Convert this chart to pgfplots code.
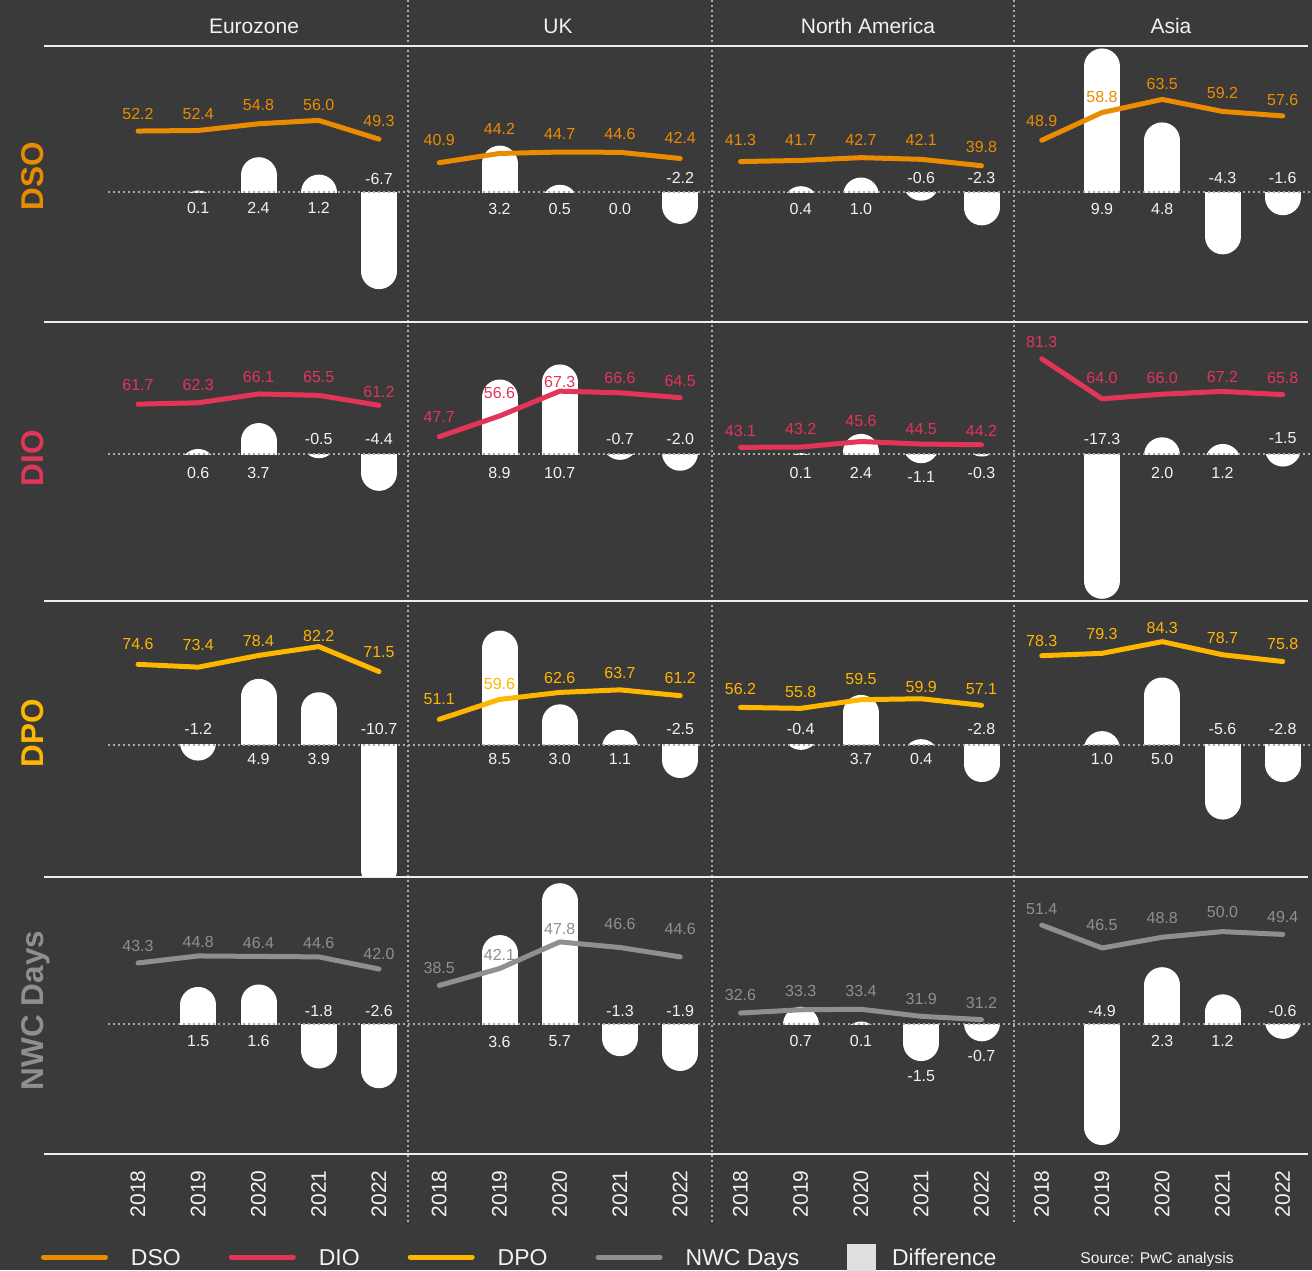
\documentclass[border=0pt]{standalone}
\usepackage{pgfplots}
\pgfplotsset{compat=1.18}
\usepackage{pgfplotstable}
\usepackage{fontspec}
\setmainfont{Liberation Sans}

\definecolor{bg}{HTML}{3A3A3A}
\definecolor{dso}{HTML}{EB8C00}
\definecolor{dio}{HTML}{E3345A}
\definecolor{dpo}{HTML}{FFB600}
\definecolor{nwc}{HTML}{8F8F8F}
\definecolor{txt}{HTML}{F2F2F2}
\definecolor{dotc}{HTML}{ABABAB}
\definecolor{diffc}{HTML}{E0E0E0}
\definecolor{rule}{HTML}{EDEDED}

\newcommand\lbl{\fontsize{8}{9.6}\selectfont}

% ---------------- data ----------------
\pgfplotstableread{
x v t lo
0 52.2 52.2 17
1 52.4 52.4 16.5
2 54.8 54.8 19
3 56.0 56.0 15.5
4 49.3 49.3 18.5
5 40.9 40.9 22.5
6 44.2 44.2 25
7 44.7 44.7 18
8 44.6 44.6 18
9 42.4 42.4 21
10 41.3 41.3 21.5
11 41.7 41.7 20.5
12 42.7 42.7 17.5
13 42.1 42.1 19.5
14 39.8 39.8 18.5
15 48.9 48.9 19.5
16 58.8 58.8 16
17 63.5 63.5 15
18 59.2 59.2 18
19 57.6 57.6 16
}\dsoL
\pgfplotstableread{
x d t lp
1 0.1 0.1 16
2 2.4 2.4 16
3 1.2 1.2 16
4 -6.7 -6.7 -13
6 3.2 3.2 17
7 0.5 0.5 17
8 0.0 0.0 17
9 -2.2 -2.2 -14
11 0.4 0.4 17
12 1.0 1.0 17
13 -0.6 -0.6 -14
14 -2.3 -2.3 -14
16 9.9 9.9 17
17 4.8 4.8 17
18 -4.3 -4.3 -14
19 -1.6 -1.6 -14
}\dsoD

\pgfplotstableread{
x v t lo
0 61.7 61.7 19
1 62.3 62.3 18
2 66.1 66.1 17
3 65.5 65.5 18.5
4 61.2 61.2 13
5 47.7 47.7 20
6 56.6 56.6 23.5
7 67.3 67.3 9.5
8 66.6 66.6 15
9 64.5 64.5 16.5
10 43.1 43.1 16.5
11 43.2 43.2 18
12 45.6 45.6 20.5
13 44.5 44.5 15
14 44.2 44.2 14
15 81.3 81.3 17
16 64.0 64.0 21
17 66.0 66.0 16.5
18 67.2 67.2 14.5
19 65.8 65.8 17
}\dioL
\pgfplotstableread{
x d t lp
1 0.6 0.6 18.5
2 3.7 3.7 18.5
3 -0.5 -0.5 -15
4 -4.4 -4.4 -15
6 8.9 8.9 18.5
7 10.7 10.7 18.5
8 -0.7 -0.7 -15
9 -2.0 -2.0 -15
11 0.1 0.1 18.5
12 2.4 2.4 18.5
13 -1.1 -1.1 22.5
14 -0.3 -0.3 18.5
16 -17.3 -17.3 -15
17 2.0 2.0 18.5
18 1.2 1.2 18.5
19 -1.5 -1.5 -15.5
}\dioD

\pgfplotstableread{
x v t lo
0 74.6 74.6 20
1 73.4 73.4 22.5
2 78.4 78.4 14.5
3 82.2 82.2 11
4 71.5 71.5 20
5 51.1 51.1 20
6 59.6 59.6 15
7 62.6 62.6 14
8 63.7 63.7 16.5
9 61.2 61.2 17.5
10 56.2 56.2 18
11 55.8 55.8 16
12 59.5 59.5 20.5
13 59.9 59.9 12
14 57.1 57.1 16
15 78.3 78.3 15
16 79.3 79.3 19
17 84.3 84.3 14
18 78.7 78.7 17
19 75.8 75.8 18
}\dpoL
\pgfplotstableread{
x d t lp
1 -1.2 -1.2 -16
2 4.9 4.9 14
3 3.9 3.9 14
4 -10.7 -10.7 -16
6 8.5 8.5 14
7 3.0 3.0 14
8 1.1 1.1 14
9 -2.5 -2.5 -16
11 -0.4 -0.4 -16
12 3.7 3.7 14
13 0.4 0.4 14
14 -2.8 -2.8 -16
16 1.0 1.0 14
17 5.0 5.0 14
18 -5.6 -5.6 -16
19 -2.8 -2.8 -16
}\dpoD

\pgfplotstableread{
x v t lo
0 43.3 43.3 16.5
1 44.8 44.8 14
2 44.7 46.4 13.5
3 44.6 44.6 14
4 42.0 42.0 15.5
5 38.5 38.5 17
6 42.1 42.1 14
7 47.8 47.8 12.5
8 46.6 46.6 23.5
9 44.6 44.6 27.5
10 32.6 32.6 18.5
11 33.3 33.3 19
12 33.4 33.4 18
13 31.9 31.9 17
14 31.2 31.2 17
15 51.4 51.4 16
16 46.5 46.5 23.5
17 48.8 48.8 19.5
18 50.0 50.0 20
19 49.4 49.4 17
}\nwcL
\pgfplotstableread{
x d t lp
1 1.5 1.5 17
2 1.6 1.6 17
3 -1.8 -1.8 -13.5
4 -2.6 -2.6 -13.5
6 3.6 3.6 17.5
7 5.7 5.7 17.5
8 -1.3 -1.3 -13.5
9 -1.9 -1.9 -13.5
11 0.7 0.7 17
12 0.1 0.1 17
13 -1.5 -1.5 52.5
14 -0.7 -0.7 32
16 -4.9 -4.9 -13.5
17 2.3 2.3 17
18 1.2 1.2 17
19 -0.6 -0.6 -13.5
}\nwcD

\pgfplotsset{
  base/.style={scale only axis, width=632pt, xmin=-1.5602, xmax=19.4191,
    axis line style={draw=none}, xtick=\empty, ytick=\empty,
    major tick length=0pt, anchor=north west},
  lineax/.style={base, clip=false},
  dline/.style={line width=2.5pt, line cap=round, line join=round},
  vlab/.style={draw=none, nodes near coords, point meta=explicit symbolic,
    nodes near coords style={anchor=center, inner sep=0pt, font=\lbl, text=#1}},
  posbar/.style={draw=none, restrict y to domain=#1:100,
    error bars/.cd, y dir=minus, y explicit, error mark=none,
    error bar style={draw=white, solid, line width=18pt, line cap=round}},
  negbar/.style={draw=none, restrict y to domain=-100:#1,
    error bars/.cd, y dir=plus, y explicit, error mark=none,
    error bar style={draw=white, solid, line width=18pt, line cap=round}},
  baseln/.style={dotc, line width=1pt, dash pattern=on 1pt off 1.5pt},
}

\begin{document}
\begin{tikzpicture}
\fill[bg] (0,0) rectangle (656pt,-635pt);

% ---------------- frame ----------------
\begin{axis}[scale only axis, width=632pt, height=611pt, at={(22pt,0pt)}, anchor=north west,
  xmin=-1.5602, xmax=19.4191, ymin=-1222, ymax=0, axis line style={draw=none}, clip=false,
  xtick={4.486,9.52,14.54}, ytick={-1154,-877,-601,-322,-46}, xticklabels={}, yticklabels={},
  major tick length=0pt, xmajorgrids, ymajorgrids,
  x grid style={dotc, line width=1pt, dash pattern=on 1pt off 1.5pt},
  y grid style={rule, line width=1pt},
  legend columns=5, legend cell align=left,
  legend style={draw=none, fill=none, inner sep=0pt, outer sep=0pt,
    at={(-0.002373,-0.028642)}, anchor=west, text=txt,
    font=\fontsize{11.5}{13}\selectfont,
    nodes={inner sep=0pt, text height=10pt, text depth=1.8pt},
    /tikz/every odd column/.append style={column sep=11.5pt},
    /tikz/every even column/.append style={column sep=24pt}},
  legend image code/.code={\draw[#1] (1.25pt,0pt) -- (32.25pt,0pt);}]
\addlegendimage{dso, line width=2.5pt, line cap=round}\addlegendentry{DSO}
\addlegendimage{dio, line width=2.5pt, line cap=round}\addlegendentry{DIO}
\addlegendimage{dpo, line width=2.5pt, line cap=round}\addlegendentry{DPO}
\addlegendimage{nwc, line width=2.5pt, line cap=round}\addlegendentry{NWC Days}
\addlegendimage{legend image code/.code={\path (0pt,-6.5pt) rectangle (10.5pt,6.5pt);
   \fill[diffc, overlay] (0pt,-6.5pt) rectangle (14pt,6.5pt);}}\addlegendentry{Difference}

\node[anchor=base, font=\fontsize{10.5}{12}\selectfont, text=txt] at (axis cs:1.9253,-33) {Eurozone};
\node[anchor=base, font=\fontsize{10.5}{12}\selectfont, text=txt] at (axis cs:6.971,-33) {UK};
\node[anchor=base, font=\fontsize{10.5}{12}\selectfont, text=txt] at (axis cs:12.116,-33) {North America};
\node[anchor=base, font=\fontsize{10.5}{12}\selectfont, text=txt] at (axis cs:17.145,-33) {Asia};

\node[rotate=90, anchor=base, font=\fontsize{15.75}{18}\selectfont\bfseries, text=dso] at (axis cs:-1.5685,-176) {DSO};
\node[rotate=90, anchor=base, font=\fontsize{15.75}{18}\selectfont\bfseries, text=dio] at (axis cs:-1.5685,-458) {DIO};
\node[rotate=90, anchor=base, font=\fontsize{15.75}{18}\selectfont\bfseries, text=dpo] at (axis cs:-1.5685,-733) {DPO};
\node[rotate=90, anchor=base, font=\fontsize{15.75}{18}\selectfont\bfseries, text=nwc] at (axis cs:-1.5685,-1010.5) {NWC Days};

\node[anchor=base west, inner sep=0pt, font=\fontsize{7.8}{9}\selectfont, text=txt] at (axis cs:15.635,-1263.3) {Source: PwC analysis};
\end{axis}

% ---------------- DSO ----------------
\begin{axis}[base, at={(22pt,-23pt)}, height=73pt, ymin=0, ymax=10.069]
\addplot[posbar=-1.2] table[x=x, y expr={\thisrow{d}-1.2414}, y error expr={\thisrow{d}}] {\dsoD};
\end{axis}
\begin{axis}[base, at={(22pt,-96pt)}, height=65pt, ymin=-8.966, ymax=0]
\addplot[negbar=1.2] table[x=x, y expr={\thisrow{d}+1.2414}, y error expr={-\thisrow{d}}] {\dsoD};
\end{axis}
\begin{axis}[lineax, at={(22pt,-23pt)}, height=138pt, ymin=-16, ymax=82.571]
\addplot[baseln] coordinates {(-0.5,30.4286) (19.485,30.4286)};
\addplot[dso, dline, restrict x to domain=0:4] table[x=x, y=v] {\dsoL};
\addplot[dso, dline, restrict x to domain=5:9] table[x=x, y=v] {\dsoL};
\addplot[dso, dline, restrict x to domain=10:14] table[x=x, y=v] {\dsoL};
\addplot[dso, dline, restrict x to domain=15:19] table[x=x, y=v] {\dsoL};
\addplot[vlab=dso] table[x=x, y expr={\thisrow{v}+\thisrow{lo}/2.8}, meta=t] {\dsoL};
\addplot[vlab=txt] table[x=x, y expr={(85.2-\thisrow{lp})/2.8}, meta=t] {\dsoD};
\end{axis}

% ---------------- DIO ----------------
\begin{axis}[base, at={(22pt,-161pt)}, height=66pt, ymin=0, ymax=15.771]
\addplot[posbar=-2.1] table[x=x, y expr={\thisrow{d}-2.1505}, y error expr={\thisrow{d}}] {\dioD};
\end{axis}
\begin{axis}[base, at={(22pt,-227pt)}, height=73.5pt, ymin=-17.563, ymax=0]
\addplot[negbar=2.1] table[x=x, y expr={\thisrow{d}+2.1505}, y error expr={-\thisrow{d}}] {\dioD};
\end{axis}
\begin{axis}[lineax, at={(22pt,-161pt)}, height=139.5pt, ymin=-23.147, ymax=97.112]
\addplot[baseln] coordinates {(-0.5,40.2155) (19.485,40.2155)};
\addplot[dio, dline, restrict x to domain=0:4] table[x=x, y=v] {\dioL};
\addplot[dio, dline, restrict x to domain=5:9] table[x=x, y=v] {\dioL};
\addplot[dio, dline, restrict x to domain=10:14] table[x=x, y=v] {\dioL};
\addplot[dio, dline, restrict x to domain=15:19] table[x=x, y=v] {\dioL};
\addplot[vlab=dio] table[x=x, y expr={\thisrow{v}+\thisrow{lo}/2.32}, meta=t] {\dioL};
\addplot[vlab=txt] table[x=x, y expr={(93.3-\thisrow{lp})/2.32}, meta=t] {\dioD};
\end{axis}

% ---------------- DPO ----------------
\begin{axis}[base, at={(22pt,-300.5pt)}, height=71.75pt, ymin=0, ymax=10.709]
\addplot[posbar=-1.3] table[x=x, y expr={\thisrow{d}-1.3433}, y error expr={\thisrow{d}}] {\dpoD};
\end{axis}
\begin{axis}[base, at={(22pt,-372.25pt)}, height=65.75pt, ymin=-9.813, ymax=0]
\addplot[negbar=1.3] table[x=x, y expr={\thisrow{d}+1.3433}, y error expr={-\thisrow{d}}] {\dpoD};
\end{axis}
\begin{axis}[lineax, at={(22pt,-300.5pt)}, height=138pt, ymin=-16.282, ymax=101.667]
\addplot[baseln] coordinates {(-0.5,40.342) (19.485,40.342)};
\addplot[dpo, dline, restrict x to domain=0:4] table[x=x, y=v] {\dpoL};
\addplot[dpo, dline, restrict x to domain=5:9] table[x=x, y=v] {\dpoL};
\addplot[dpo, dline, restrict x to domain=10:14] table[x=x, y=v] {\dpoL};
\addplot[dpo, dline, restrict x to domain=15:19] table[x=x, y=v] {\dpoL};
\addplot[vlab=dpo] table[x=x, y expr={\thisrow{v}+\thisrow{lo}/2.34}, meta=t] {\dpoL};
\addplot[vlab=txt] table[x=x, y expr={(94.4-\thisrow{lp})/2.34}, meta=t] {\dpoD};
\end{axis}

% ---------------- NWC ----------------
\begin{axis}[base, at={(22pt,-438.5pt)}, height=73.5pt, ymin=0, ymax=5.951]
\addplot[posbar=-0.7] table[x=x, y expr={\thisrow{d}-0.7287}, y error expr={\thisrow{d}}] {\nwcD};
\end{axis}
\begin{axis}[base, at={(22pt,-512pt)}, height=65pt, ymin=-5.263, ymax=0]
\addplot[negbar=0.7] table[x=x, y expr={\thisrow{d}+0.7287}, y error expr={-\thisrow{d}}] {\nwcD};
\end{axis}
\begin{axis}[lineax, at={(22pt,-438.5pt)}, height=138.5pt, ymin=2.4786, ymax=61.667,
  xtick={0,...,19},
  xticklabels={2018,2019,2020,2021,2022,2018,2019,2020,2021,2022,2018,2019,2020,2021,2022,2018,2019,2020,2021,2022},
  xticklabel style={rotate=90, anchor=east, inner sep=0pt, font=\fontsize{10.5}{12}\selectfont, text=txt},
  xticklabel shift=8pt]
\addplot[baseln] coordinates {(-0.5,30.2564) (19.485,30.2564)};
\addplot[nwc, dline, restrict x to domain=0:4] table[x=x, y=v] {\nwcL};
\addplot[nwc, dline, restrict x to domain=5:9] table[x=x, y=v] {\nwcL};
\addplot[nwc, dline, restrict x to domain=10:14] table[x=x, y=v] {\nwcL};
\addplot[nwc, dline, restrict x to domain=15:19] table[x=x, y=v] {\nwcL};
\addplot[vlab=nwc] table[x=x, y expr={\thisrow{v}+\thisrow{lo}/4.68}, meta=t] {\nwcL};
\addplot[vlab=txt] table[x=x, y expr={(141.6-\thisrow{lp})/4.68}, meta=t] {\nwcD};
\end{axis}

\pgfresetboundingbox
\path[use as bounding box] (0,0) rectangle (656pt,-635pt);
\end{tikzpicture}
\end{document}
